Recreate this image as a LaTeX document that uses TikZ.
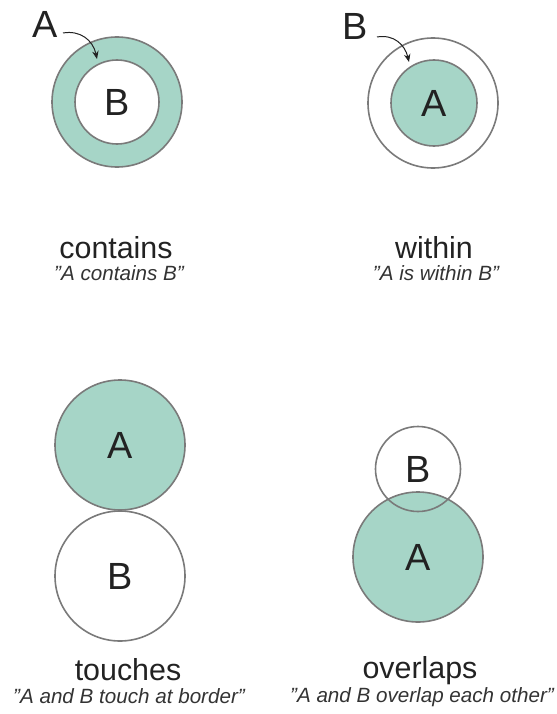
\documentclass[tikz,border=0pt]{standalone}
\usepackage{fontspec}
\setmainfont{Liberation Sans}
\usetikzlibrary{arrows.meta}

\definecolor{areafill}{HTML}{A6D5C7}
\definecolor{rim}{HTML}{7A7A7A}
\definecolor{ink}{HTML}{222222}
\definecolor{subink}{HTML}{333333}

\tikzset{
  ring/.style={circle, draw=rim, line width=1.6bp, inner sep=0pt, minimum size=#1},
  filled/.style={fill=areafill},
  blank/.style={fill=white},
  letter/.style={text=ink, font=\fontsize{38}{40}\selectfont},
  title/.style={anchor=base, inner sep=0pt, text=ink, font=\fontsize{30.5}{34}\selectfont},
  caption/.style={anchor=base, inner sep=0pt, text=subink, font=\itshape\fontsize{20.7}{24}\selectfont},
  pointer/.style={draw=ink, line width=1bp, -{Stealth[length=8bp,width=6.5bp]}}
}

\begin{document}
\begin{tikzpicture}[x=1bp, y=-1bp]
  \useasboundingbox (0,0) rectangle (557,714);

  % contains: ring A around B
  \node[ring=130bp, filled] (cA) at (117,102) {};
  \node[ring=84bp, blank, letter] (cB) at (117,102) {B};
  \node[letter, inner sep=0pt] (cLab) at (45,24) {A};
  \coordinate (cStart) at (63,33);
  \coordinate (cTip) at (97,59);
  \draw[pointer] (cStart) .. controls (80,30) and (93,40) .. (cTip);
  \node[title] (cTitle) at (116,258) {contains};
  \node[caption] (cCap) at (119,280) {”A contains B”};

  % within: A inside B
  \node[ring=130bp, blank] (wB) at (433,103) {};
  \node[ring=86bp, filled, letter] (wA) at (434,103) {A};
  \node[letter, inner sep=0pt] (wLab) at (355,26) {B};
  \coordinate (wStart) at (377,37);
  \coordinate (wTip) at (409,62);
  \draw[pointer] (wStart) .. controls (394,34) and (405,45) .. (wTip);
  \node[title] (wTitle) at (434,258) {within};
  \node[caption] (wCap) at (436,280) {”A is within B”};

  % touches: A on top of B
  \node[ring=130bp, filled, letter] (tA) at (120,445) {A};
  \node[ring=130bp, blank, letter] (tB) at (120,576) {B};
  \node[title] (tTitle) at (128,680) {touches};
  \node[caption] (tCap) at (129,703) {”A and B touch at border”};

  % overlaps: B overlapping the top of A
  \node[ring=130bp, filled, letter] (oA) at (418,557) {A};
  \node[ring=85bp, letter] (oB) at (418,469) {B};
  \node[title] (oTitle) at (420,678) {overlaps};
  \node[caption] (oCap) at (422,702) {”A and B overlap each other”};
\end{tikzpicture}
\end{document}
